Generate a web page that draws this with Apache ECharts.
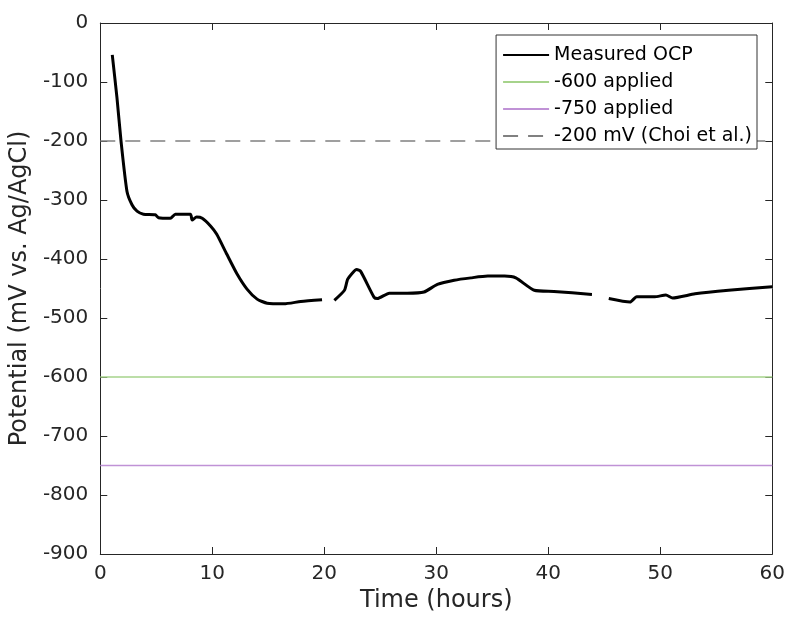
<!DOCTYPE html>
<html><head><meta charset="utf-8">
<script src="https://cdn.jsdelivr.net/npm/echarts@6/dist/echarts.min.js"></script>
<style>html,body{margin:0;padding:0;background:#fff}#c{width:788px;height:623px}</style>
</head><body><div id="c"></div>
<script>
var hours = [1.07,1.49,1.85,2.38,2.83,3.28,3.85,4.9,5.2,6.26,6.7,8.05,8.2,8.6,9.1,9.84,10.4,11.3,12.2,13.1,14.0,14.9,16.4,17.9,19.8,20.3,20.9,21.8,22.1,22.9,23.25,24.45,24.75,25.8,27.4,28.9,30.1,31.6,33.1,34.6,36.1,37.1,38.75,40.5,43.9,44.6,45.4,47.3,47.9,49.5,50.5,51.1,53.1,56.1,60.0];
var ocp = [-54,-127,-200,-285,-308,-319,-324,-325,-330,-331,-324,-324,-334,-329,-331,-344,-358,-392,-425,-451,-468,-475,-476,-472,-469,null,-470,-453,-434,-418,-421,-465,-467,-458,-458,-456,-443,-436,-432,-429,-429,-432,-453,-455,-460,null,-467,-473,-464,-464,-461,-466,-459,-453,-447];
var xRange = [0, 60];
var applied600 = [-600, -600];
var applied750 = [-750, -750];
var choi200 = [-200, -200];
var yTicks = {min: -900, max: 0, interval: 100};

function pairs(xs, ys){ return xs.map(function(x,i){ return [x, ys[i] === null ? '-' : ys[i]]; }); }

var axisColor = '#262626';
var font = 'DejaVu Sans, sans-serif';
var chart = echarts.init(document.getElementById('c'), null, {renderer:'canvas'});
chart.setOption({
  animation: false,
  backgroundColor: '#fff',
  grid: {left: 100, right: 15, top: 23, bottom: 69},
  legend: {
    orient: 'vertical', right: 31, top: 35,
    backgroundColor: '#fff', borderColor: '#333', borderWidth: 1,
    padding: [10, 5, 3, 6], itemGap: 7, itemWidth: 46, itemHeight: 20,
    itemStyle: {color: 'rgba(0,0,0,0)', borderWidth: 0, opacity: 0},
    textStyle: {fontFamily: font, fontSize: 19, color: '#000', lineHeight: 20},
    data: ['Measured OCP', '-600 applied', '-750 applied', '-200 mV (Choi et al.)']
  },
  xAxis: [{
    type: 'value', min: xRange[0], max: xRange[1], interval: 10, position: 'bottom',
    name: 'Time (hours)', nameLocation: 'middle', nameGap: 27,
    nameTextStyle: {fontFamily: font, fontSize: 24, color: axisColor},
    axisLine: {show: true, onZero: false, lineStyle: {color: axisColor, width: 1}},
    axisTick: {show: true, inside: true, length: 7, lineStyle: {color: axisColor}},
    axisLabel: {fontFamily: font, fontSize: 20, color: axisColor, margin: 10},
    splitLine: {show: false}
  }, {
    type: 'value', min: xRange[0], max: xRange[1], interval: 10, position: 'top',
    axisLine: {show: true, onZero: false, lineStyle: {color: axisColor, width: 1}},
    axisTick: {show: true, inside: true, length: 7, lineStyle: {color: axisColor}},
    axisLabel: {show: false}, splitLine: {show: false}
  }],
  yAxis: [{
    type: 'value', min: yTicks.min, max: yTicks.max, interval: yTicks.interval, position: 'left',
    name: 'Potential (mV vs. Ag/AgCl)', nameLocation: 'middle', nameGap: 63,
    nameTextStyle: {fontFamily: font, fontSize: 24, color: axisColor},
    axisLine: {show: true, onZero: false, lineStyle: {color: axisColor, width: 1}},
    axisTick: {show: true, inside: true, length: 7, lineStyle: {color: axisColor}},
    axisLabel: {fontFamily: font, fontSize: 20, color: axisColor, margin: 12},
    splitLine: {show: false}
  }, {
    type: 'value', min: yTicks.min, max: yTicks.max, interval: yTicks.interval, position: 'right',
    axisLine: {show: true, onZero: false, lineStyle: {color: axisColor, width: 1}},
    axisTick: {show: true, inside: true, length: 7, lineStyle: {color: axisColor}},
    axisLabel: {show: false}, splitLine: {show: false}
  }],
  series: [
    {name: 'Measured OCP', type: 'line', data: pairs(hours, ocp), showSymbol: false, symbol: 'none',
     connectNulls: false, smooth: 0.2, lineStyle: {color: '#000', width: 3}, itemStyle: {color: '#000'}, z: 5},
    {name: '-600 applied', type: 'line', data: pairs(xRange, applied600), symbol: 'none',
     lineStyle: {color: '#a6d38b', width: 1.5}, itemStyle: {color: '#a6d38b'}},
    {name: '-750 applied', type: 'line', data: pairs(xRange, applied750), symbol: 'none',
     lineStyle: {color: '#c092d6', width: 1.5}, itemStyle: {color: '#c092d6'}},
    {name: '-200 mV (Choi et al.)', type: 'line', data: pairs(xRange, choi200), symbol: 'none',
     lineStyle: {color: '#808080', width: 1.5, type: [15, 10]}, itemStyle: {color: '#808080'}}
  ]
});
</script></body></html>
